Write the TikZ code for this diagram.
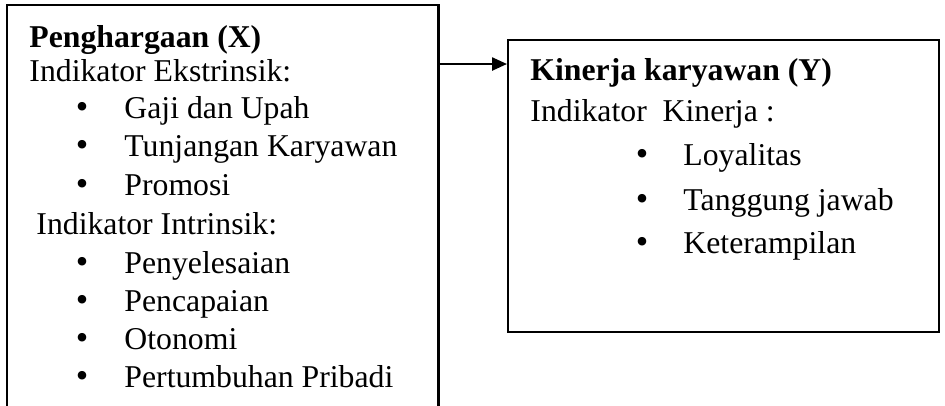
\documentclass[tikz,border=0pt]{standalone}
\usepackage{fontspec}
\setmainfont{Liberation Serif}
\usetikzlibrary{arrows.meta}
\begin{document}
\begin{tikzpicture}[x=0.4348pt,y=-0.4348pt,
  box/.style={draw=black,line width=0.9pt},
  ttl/.style={anchor=base west,inner sep=0pt,font=\fontsize{13.8}{16}\selectfont\bfseries},
  txt/.style={anchor=base west,inner sep=0pt,font=\fontsize{13.8}{16}\selectfont},
  bul/.style={anchor=base,inner sep=0pt,font=\fontsize{15.5}{16}\selectfont},
  conn/.style={line width=0.9pt,-{Triangle[length=6.5pt,width=5.7pt]}}]
\useasboundingbox (0,0) rectangle (945,405);
\clip (0,0) rectangle (945,405);
% left box (open at the bottom)
\node (X) [minimum width=187.4pt, minimum height=180.4pt, inner sep=0pt] at (222.5,212.5) {};
\draw[box] (X.south west) -- (X.north west) -- (X.north east) -- (X.south east);
% right box
\node (Y) [box, minimum width=187.4pt, minimum height=126.96pt, inner sep=0pt] at (723.5,186) {};
% connector
\draw[conn] (X.east |- 0,64) -- (Y.west |- 0,64);
% left texts
\node (xt) [ttl] at (29,47) {Penghargaan (X)};
\node (xe) [txt] at (29,81) {Indikator Ekstrinsik:};
\node (xb1) [bul] at (82,118) {•};
\node (xi1) [txt] at (124,118) {Gaji dan Upah};
\node (xb2) [bul] at (82,156) {•};
\node (xi2) [txt] at (124,156) {Tunjangan Karyawan};
\node (xb3) [bul] at (82,195) {•};
\node (xi3) [txt] at (124,195) {Promosi};
\node (xn) [txt] at (36,234) {Indikator Intrinsik:};
\node (xb4) [bul] at (82,273) {•};
\node (xi4) [txt] at (124,273) {Penyelesaian};
\node (xb5) [bul] at (82,311) {•};
\node (xi5) [txt] at (124,311) {Pencapaian};
\node (xb6) [bul] at (82,349) {•};
\node (xi6) [txt] at (124,349) {Otonomi};
\node (xb7) [bul] at (82,387) {•};
\node (xi7) [txt] at (124,387) {Pertumbuhan Pribadi};
% right texts
\node (yt) [ttl] at (530,80) {Kinerja karyawan (Y)};
\node (yk) [txt] at (530,121) {Indikator\ \ Kinerja :};
\node (yb1) [bul] at (642,165) {•};
\node (yi1) [txt] at (683,165) {Loyalitas};
\node (yb2) [bul] at (642,210) {•};
\node (yi2) [txt] at (683,210) {Tanggung jawab};
\node (yb3) [bul] at (642,253) {•};
\node (yi3) [txt] at (683,253) {Keterampilan};
\end{tikzpicture}
\end{document}
